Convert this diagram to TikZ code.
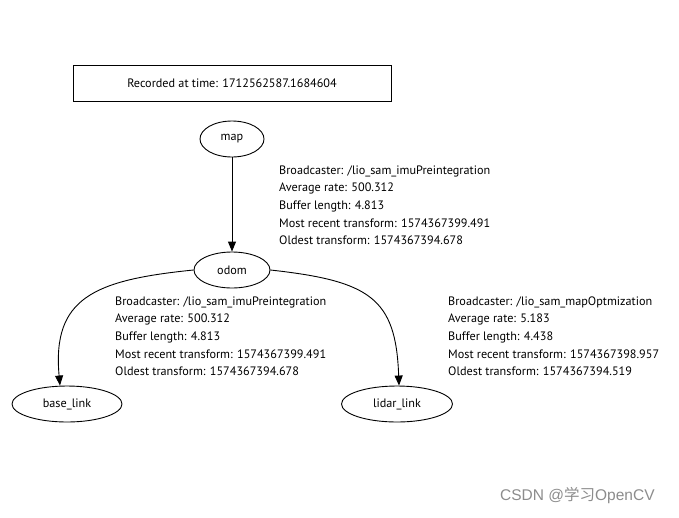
\documentclass[tikz,border=0pt]{standalone}
\usepackage{fontspec}
\setmainfont{PT Sans}
\newfontfamily\cjkfont{Noto Sans CJK SC}
\usetikzlibrary{shapes.geometric,arrows.meta}
% five lines of a transform edge
\newcommand{\tflabel}[5]{%
  Broadcaster: #1\\
  Average rate: #2\\
  Buffer length: #3\\
  Most recent transform: #4\\
  Oldest transform: #5}

\begin{document}
\begin{tikzpicture}[x=1pt,y=-1pt,
  every node/.style={font=\fontsize{12.2}{17.6}\selectfont},
  stampbox/.style={draw,line width=0.9pt,minimum width=318pt,minimum height=36pt},
  frame/.style={ellipse,draw,line width=0.9pt,minimum height=36pt,inner sep=0pt},
  tfinfo/.style={anchor=north west,align=left,inner sep=0pt},
  tfedge/.style={-{Triangle[length=10pt,width=8pt]},line width=0.9pt}]
  \useasboundingbox (0,0) rectangle (679,517);
  \node[stampbox] (stamp) at (232,83) {Recorded at time: 1712562587.1684604};
  %The tf frames
  \node[frame,minimum width=64pt] (map) at (232,139) {map};
  \node[frame,minimum width=76pt] (odom) at (232,270) {odom};
  \node[frame,minimum width=110pt] (base) at (67,404) {base\_link};
  \node[frame,minimum width=111pt] (lidar) at (397,404) {lidar\_link};
  %The edges between frames
  \draw[tfedge] (map) -- (odom);
  \draw[tfedge] (odom.west) .. controls (94,280) and (52,298) .. (base.north -| 60,0);
  \draw[tfedge] (odom.east) .. controls (370,281) and (396,298) .. (lidar.north -| 399,0);
  %The edge labels
  \node[tfinfo] (info1) at (279,165.5)
    {\tflabel{/lio\_sam\_imuPreintegration}{500.312}{4.813}{1574367399.491}{1574367394.678}};
  \node[tfinfo] (info2) at (115,296.5)
    {\tflabel{/lio\_sam\_imuPreintegration}{500.312}{4.813}{1574367399.491}{1574367394.678}};
  \node[tfinfo] (info3) at (448,296.5)
    {\tflabel{/lio\_sam\_mapOptmization}{5.183}{4.438}{1574367398.957}{1574367394.519}};
  \node[anchor=west,text=black!45,inner sep=0pt] (mark) at (500,496)
    {\fontsize{15.5}{15.5}\selectfont\fontspec{Liberation Sans}CSDN @\cjkfont 学习\fontspec{Liberation Sans}OpenCV};
\end{tikzpicture}
\end{document}
